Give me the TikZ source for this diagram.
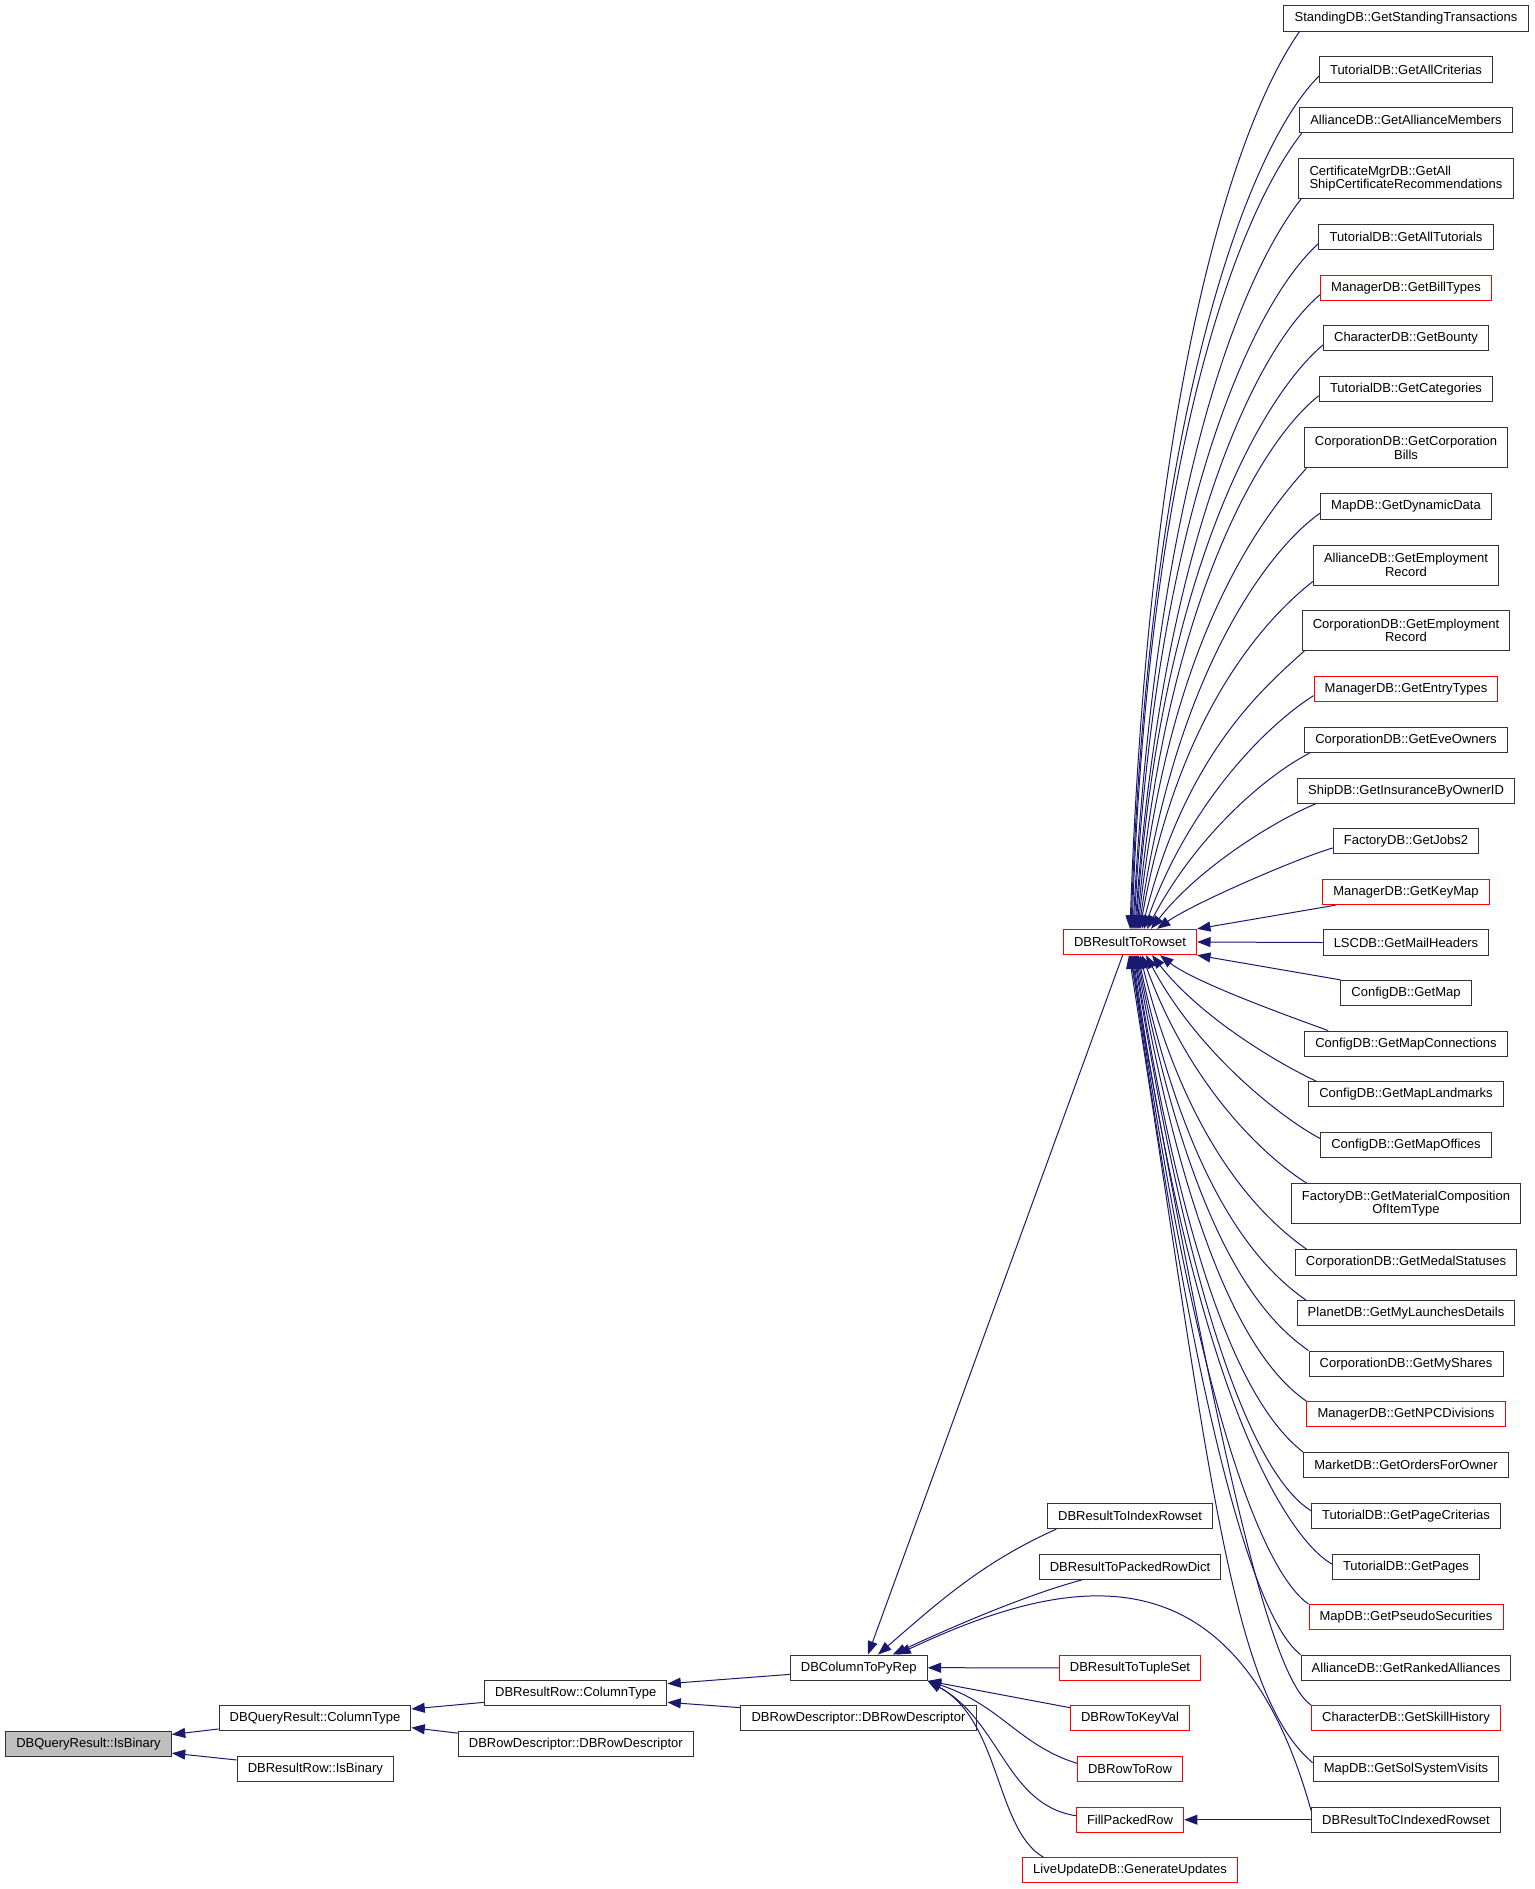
\documentclass[tikz,border=0pt]{standalone}
\usepackage{fontspec}
\usetikzlibrary{arrows.meta}
\newfontfamily\dxfont{Liberation Sans}
\definecolor{midnight}{HTML}{191970}
\definecolor{dxred}{HTML}{FF0000}
\definecolor{rootgray}{HTML}{BFBFBF}
\tikzset{
  fn/.style={draw=black!80, fill=white, line width=0.75pt, inner xsep=8pt, inner ysep=0pt,
    minimum height=19pt, font=\dxfont\fontsize{9.75}{10}\selectfont},
  fnred/.style={fn, draw=dxred},
  two/.style={align=center, minimum height=30pt},
  edge/.style={draw=midnight, line width=0.75pt, -{Triangle[length=10pt,width=7.5pt]}},
}

\begin{document}
\begin{tikzpicture}[x=0.75pt,y=0.75pt]
        \useasboundingbox (0,0) rectangle (1535,-1889);

        % callers of DBResultToRowset
        \node[fn] (stand) at (1406,-18.5) {StandingDB::GetStandingTransactions};
        \node[fn] (tcrit) at (1406,-69.5) {TutorialDB::GetAllCriterias};
        \node[fn] (amem) at (1406,-120) {AllianceDB::GetAllianceMembers};
        \node[fn,align=left,minimum height=30pt] (cert) at (1406,-178.5) {CertificateMgrDB::GetAll\\ShipCertificateRecommendations};
        \node[fn] (ttut) at (1406,-237) {TutorialDB::GetAllTutorials};
        \node[fnred] (mbill) at (1406,-288) {ManagerDB::GetBillTypes};
        \node[fn] (cbounty) at (1406,-338.3) {CharacterDB::GetBounty};
        \node[fn] (tcat) at (1406,-389) {TutorialDB::GetCategories};
        \node[fn,two] (cbills) at (1406,-447.7) {CorporationDB::GetCorporation\\Bills};
        \node[fn] (mdyn) at (1406,-506.5) {MapDB::GetDynamicData};
        \node[fn,two] (aemp) at (1406,-565) {AllianceDB::GetEmployment\\Record};
        \node[fn,two] (cemp) at (1406,-630.5) {CorporationDB::GetEmployment\\Record};
        \node[fnred] (mentry) at (1406,-689) {ManagerDB::GetEntryTypes};
        \node[fn] (cowners) at (1406,-740) {CorporationDB::GetEveOwners};
        \node[fn] (sins) at (1406,-790.7) {ShipDB::GetInsuranceByOwnerID};
        \node[fn] (fjobs) at (1406,-841.3) {FactoryDB::GetJobs2};
        \node[fnred] (mkey) at (1406,-892) {ManagerDB::GetKeyMap};
        \node[fn] (lmail) at (1406,-942.5) {LSCDB::GetMailHeaders};
        \node[fn] (cmap) at (1406,-993) {ConfigDB::GetMap};
        \node[fn] (cconn) at (1406,-1043.7) {ConfigDB::GetMapConnections};
        \node[fn] (cland) at (1406,-1094.3) {ConfigDB::GetMapLandmarks};
        \node[fn] (coff) at (1406,-1145.2) {ConfigDB::GetMapOffices};
        \node[fn,two] (fmat) at (1406,-1203.7) {FactoryDB::GetMaterialComposition\\OfItemType};
        \node[fn] (cmedal) at (1406,-1262.5) {CorporationDB::GetMedalStatuses};
        \node[fn] (plaunch) at (1406,-1313.2) {PlanetDB::GetMyLaunchesDetails};
        \node[fn] (cshares) at (1406,-1363.7) {CorporationDB::GetMyShares};
        \node[fnred] (mnpc) at (1406,-1414.3) {ManagerDB::GetNPCDivisions};
        \node[fn] (morders) at (1406,-1465.2) {MarketDB::GetOrdersForOwner};
        \node[fn] (tpcrit) at (1406,-1516) {TutorialDB::GetPageCriterias};
        \node[fn] (tpages) at (1406,-1566.7) {TutorialDB::GetPages};
        \node[fnred] (mpseudo) at (1406,-1617.2) {MapDB::GetPseudoSecurities};
        \node[fn] (aranked) at (1406,-1667.8) {AllianceDB::GetRankedAlliances};
        \node[fnred] (cskill) at (1406,-1718.3) {CharacterDB::GetSkillHistory};
        \node[fn] (msol) at (1406,-1769.3) {MapDB::GetSolSystemVisits};
        \node[fn] (cidx) at (1406,-1819.7) {DBResultToCIndexedRowset};

        % middle column
        \node[fnred] (rowset) at (1130,-942) {DBResultToRowset};
        \node[fn] (irs) at (1130,-1516) {DBResultToIndexRowset};
        \node[fn] (prd) at (1130,-1566.7) {DBResultToPackedRowDict};
        \node[fnred] (tset) at (1130,-1667.8) {DBResultToTupleSet};
        \node[fnred] (kval) at (1130,-1718.3) {DBRowToKeyVal};
        \node[fnred] (r2r) at (1130,-1769.3) {DBRowToRow};
        \node[fnred] (fpr) at (1130,-1819.7) {FillPackedRow};
        \node[fnred] (lupd) at (1130,-1870.3) {LiveUpdateDB::GenerateUpdates};

        % left part
        \node[fn] (dbcp) at (858.7,-1667.7) {DBColumnToPyRep};
        \node[fn] (rd1) at (858.5,-1718.3) {DBRowDescriptor::DBRowDescriptor};
        \node[fn] (rrct) at (575.7,-1693) {DBResultRow::ColumnType};
        \node[fn] (rd2) at (575.8,-1743.8) {DBRowDescriptor::DBRowDescriptor};
        \node[fn] (qrct) at (315,-1718.3) {DBQueryResult::ColumnType};
        \node[fn] (rrib) at (315.3,-1769.3) {DBResultRow::IsBinary};
        \node[fn,fill=rootgray] (root) at (88.5,-1743.8) {DBQueryResult::IsBinary};

        % into DBResultToRowset from above
        \draw[edge] ([xshift=12pt]stand.south west) .. controls +(235:110) and +(88:550) .. ([xshift=0pt]rowset.north);
        \draw[edge] ([yshift=-5pt]tcrit.west) .. controls +(225:100) and +(88:520) .. ([xshift=0.75pt]rowset.north);
        \draw[edge] ([xshift=2pt]amem.south west) .. controls +(232:100) and +(88:490) .. ([xshift=1.5pt]rowset.north);
        \draw[edge] ([xshift=2pt]cert.south west) .. controls +(232:95) and +(87:450) .. ([xshift=2.25pt]rowset.north);
        \draw[edge] ([yshift=-5pt]ttut.west) .. controls +(222:90) and +(87:415) .. ([xshift=3pt]rowset.north);
        \draw[edge] ([yshift=-5pt]mbill.west) .. controls +(220:85) and +(86:385) .. ([xshift=3.75pt]rowset.north);
        \draw[edge] ([yshift=-5pt]cbounty.west) .. controls +(220:80) and +(86:355) .. ([xshift=4.5pt]rowset.north);
        \draw[edge] ([yshift=-5pt]tcat.west) .. controls +(218:75) and +(85:325) .. ([xshift=5.25pt]rowset.north);
        \draw[edge] ([xshift=2pt]cbills.south west) .. controls +(228:70) and +(84:290) .. ([xshift=6pt]rowset.north);
        \draw[edge] ([yshift=-5pt]mdyn.west) .. controls +(215:65) and +(82:255) .. ([xshift=6.75pt]rowset.north);
        \draw[edge] ([yshift=3pt]aemp.south west) .. controls +(218:60) and +(80:220) .. ([xshift=7.5pt]rowset.north);
        \draw[edge] ([xshift=2pt]cemp.south west) .. controls +(222:55) and +(76:180) .. ([xshift=9pt]rowset.north);
        \draw[edge] ([yshift=-5pt]mentry.west) .. controls +(212:50) and +(70:140) .. ([xshift=10.5pt]rowset.north);
        \draw[edge] ([xshift=4pt]cowners.south west) .. controls +(207:45) and +(62:110) .. ([xshift=12.75pt]rowset.north);
        \draw[edge] ([xshift=14pt]sins.south west) .. controls +(202:40) and +(52:80) .. ([xshift=15.75pt]rowset.north);
        \draw[edge] ([yshift=-5pt]fjobs.west) .. controls +(196:35) and +(35:45) .. ([xshift=20.25pt]rowset.north);
        \draw[edge] ([xshift=10pt]mkey.south west) -- (rowset.north east);
        \draw[edge] (lmail.west) -- (rowset.east);
        \draw[edge] (cmap.north west) -- (rowset.south east);

        % into DBResultToRowset from below
        \draw[edge] ([xshift=18pt]cconn.north west) .. controls +(160:35) and +(-38:45) .. ([xshift=22.5pt]rowset.south);
        \draw[edge] ([xshift=6pt]cland.north west) .. controls +(155:40) and +(-52:80) .. ([xshift=16.5pt]rowset.south);
        \draw[edge] ([yshift=5pt]coff.west) .. controls +(152:45) and +(-62:110) .. ([xshift=12pt]rowset.south);
        \draw[edge] ([xshift=12pt]fmat.north west) .. controls +(148:50) and +(-70:140) .. ([xshift=9pt]rowset.south);
        \draw[edge] ([xshift=9pt]cmedal.north west) .. controls +(145:50) and +(-76:200) .. ([xshift=7.5pt]rowset.south);
        \draw[edge] ([xshift=7pt]plaunch.north west) .. controls +(145:50) and +(-78:250) .. ([xshift=6pt]rowset.south);
        \draw[edge] (cshares.north west) .. controls +(145:50) and +(-79:300) .. ([xshift=5.25pt]rowset.south);
        \draw[edge] (mnpc.north west) .. controls +(145:50) and +(-80:340) .. ([xshift=4.5pt]rowset.south);
        \draw[edge] (morders.north west) .. controls +(142:50) and +(-81:380) .. ([xshift=3.75pt]rowset.south);
        \draw[edge] ([yshift=4pt]tpcrit.west) .. controls +(148:50) and +(-81:420) .. ([xshift=3pt]rowset.south);
        \draw[edge] ([yshift=2pt]tpages.west) .. controls +(150:50) and +(-82:450) .. ([xshift=2.25pt]rowset.south);
        \draw[edge] (mpseudo.north west) .. controls +(145:50) and +(-82:480) .. ([xshift=1.5pt]rowset.south);
        \draw[edge] (aranked.north west) .. controls +(142:50) and +(-82:520) .. ([xshift=0.75pt]rowset.south);
        \draw[edge] (cskill.north west) .. controls +(145:45) and +(-80:560) .. ([xshift=0pt]rowset.south);
        \draw[edge] ([yshift=5pt]msol.west) .. controls +(140:110) and +(-81:500) .. ([xshift=-0.75pt]rowset.south);

        % into DBColumnToPyRep
        \draw[edge] ([xshift=-5.5pt]rowset.south) -- ([xshift=7pt]dbcp.north);
        \draw[edge] ([xshift=7pt]irs.south west) .. controls +(204:80) and +(41:80) .. ([xshift=14.5pt]dbcp.north);
        \draw[edge] ([xshift=-36pt]prd.south) .. controls +(195:60) and +(25:60) .. ([xshift=25.5pt]dbcp.north);
        \draw[edge] ([yshift=7pt]cidx.west) .. controls +(-75,270) and +(170,80) .. ([xshift=29pt]dbcp.north);
        \draw[edge] (tset.west) -- (dbcp.east);
        \draw[edge] ([yshift=8pt]kval.west) -- (dbcp.south east);
        \draw[edge] ([yshift=4.5pt]r2r.west) .. controls +(-58,18) and +(73,-24) .. (dbcp.south east);
        \draw[edge] ([yshift=3pt]fpr.west) .. controls +(-70,11) and +(73,-40) .. (dbcp.south east);
        \draw[edge] ([xshift=-65pt]lupd.north) .. controls +(-48,28) and +(73,-40) .. (dbcp.south east);
        \draw[edge] (cidx.west) -- (fpr.east);

        % down to the root
        \draw[edge] ([yshift=-5pt]dbcp.west) -- ([yshift=7pt]rrct.east);
        \draw[edge] ([yshift=8pt]rd1.west) -- ([yshift=-7pt]rrct.east);
        \draw[edge] ([yshift=-7pt]rrct.west) -- ([yshift=7pt]qrct.east);
        \draw[edge] ([yshift=8pt]rd2.west) -- ([yshift=-7pt]qrct.east);
        \draw[edge] ([yshift=-8pt]qrct.west) -- ([yshift=7pt]root.east);
        \draw[edge] ([yshift=7pt]rrib.west) -- ([yshift=-7pt]root.east);
    \end{tikzpicture}
\end{document}
